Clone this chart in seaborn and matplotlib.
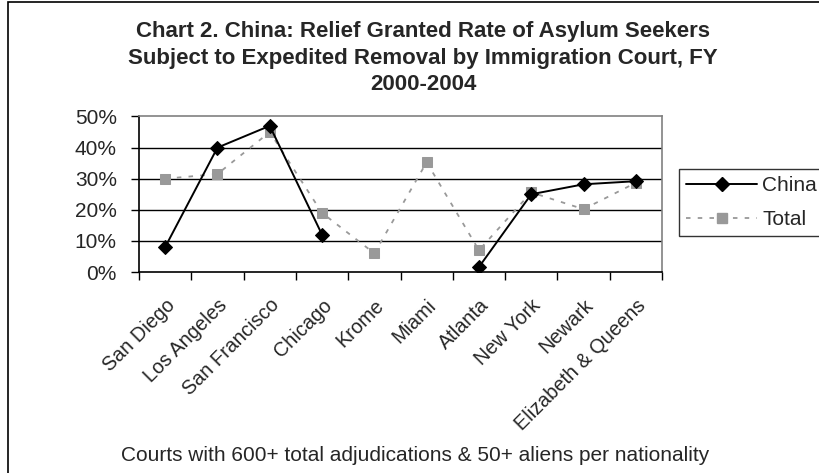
import numpy as np
import pandas as pd
import matplotlib
matplotlib.use("Agg")
import matplotlib.pyplot as plt
from matplotlib.lines import Line2D
from matplotlib.patches import Rectangle
import seaborn as sns

# ---- data -------------------------------------------------------------
courts = ["San Diego", "Los Angeles", "San Francisco", "Chicago", "Krome",
          "Miami", "Atlanta", "New York", "Newark", "Elizabeth & Queens"]
china = [8, 40, 47, 12, np.nan, np.nan, 1.6, 25, 28.2, 29.2]
total = [30, 31.5, 45, 19, 6, 35.3, 7, 25.6, 20.2, 28.7]
y_ticks = [0, 10, 20, 30, 40, 50]
y_tick_labels = ["0%", "10%", "20%", "30%", "40%", "50%"]

title_lines = ["Chart 2. China: Relief Granted Rate of Asylum Seekers",
               "Subject to Expedited Removal by Immigration Court, FY",
               "2000-2004"]
caption = "Courts with 600+ total adjudications & 50+ aliens per nationality"

# ---- tables -----------------------------------------------------------
pos = np.arange(len(courts))
total_df = pd.DataFrame({"pos": pos, "rate": total})
china_df = pd.DataFrame({"pos": pos, "rate": china})
# consecutive runs of known values become separate line segments
china_df["segment"] = china_df["rate"].isna().cumsum()
china_df = china_df.dropna()

sns.set_theme(style="white")
plt.rcParams["font.family"] = ["Liberation Sans", "DejaVu Sans"]

W, H = 820, 473
fig = plt.figure(figsize=(W / 100, H / 100), dpi=100)
fig.patch.set_facecolor("white")
ax = fig.add_axes([139 / W, 1 - 272 / H, (662 - 139) / W, (272 - 116.5) / H])

# gridlines
for v in y_ticks[1:-1]:
    ax.axhline(v, color="black", lw=1.0, zorder=1)

total_style = dict(color="#999999", lw=1.3, linestyle=(0, (2.5, 4)),
                   marker="s", markersize=7.5, markeredgecolor="#999999",
                   markerfacecolor="#999999")
china_style = dict(color="black", lw=1.4, marker="D", markersize=7.5,
                   markeredgecolor="black", markerfacecolor="black")

sns.lineplot(data=total_df, x="pos", y="rate", ax=ax, zorder=3, **total_style)
sns.lineplot(data=china_df, x="pos", y="rate", units="segment",
             estimator=None, ax=ax, zorder=4, **china_style)

ax.set_xlim(-0.5, len(courts) - 0.5)
ax.set_ylim(0, 50)
ax.set_xlabel("")
ax.set_ylabel("")

ax.set_yticks(y_ticks)
ax.set_yticklabels(y_tick_labels, fontsize=15)
ax.set_xticks(pos)
ax.set_xticklabels(courts, rotation=45, ha="right", rotation_mode="anchor",
                   fontsize=14.3)
ax.set_xticks(np.arange(-0.5, len(courts)), minor=True)
ax.tick_params(axis="x", which="major", length=0, pad=17)
ax.tick_params(axis="x", which="minor", length=6, width=1, color="black",
               direction="out", bottom=True)
ax.tick_params(axis="y", length=6, width=1, color="black", direction="out",
               left=True, pad=10)

for side in ("top", "right"):
    ax.spines[side].set_color("#808080")
    ax.spines[side].set_linewidth(1.2)
for side in ("left", "bottom"):
    ax.spines[side].set_color("black")
    ax.spines[side].set_linewidth(1.2)

# legend
handles = [Line2D([], [], **china_style), Line2D([], [], **total_style)]
leg = fig.legend(handles, ["China", "Total"], loc="upper left",
                 bbox_to_anchor=(679 / W, 1 - 169 / H), fontsize=15,
                 frameon=True, fancybox=False, edgecolor="black",
                 handlelength=3.4, handletextpad=0.25, borderpad=0.35,
                 labelspacing=0.7, borderaxespad=0)
leg.get_frame().set_linewidth(1.0)

# title, one line at a time
for y_px, line in zip([31, 58, 85], title_lines):
    fig.text(423 / W, 1 - y_px / H, line, ha="center", va="center",
             fontsize=16, fontweight="bold")

fig.text(415 / W, 1 - 455 / H, caption, ha="center", va="center",
         fontsize=15)

# outer chart frame
fig.patches.append(Rectangle((8 / W, -0.05), 1.2, 1 - 2.5 / H + 0.05,
                             transform=fig.transFigure, fill=False,
                             edgecolor="black", lw=1.2))

fig.savefig("out.png", dpi=100)
